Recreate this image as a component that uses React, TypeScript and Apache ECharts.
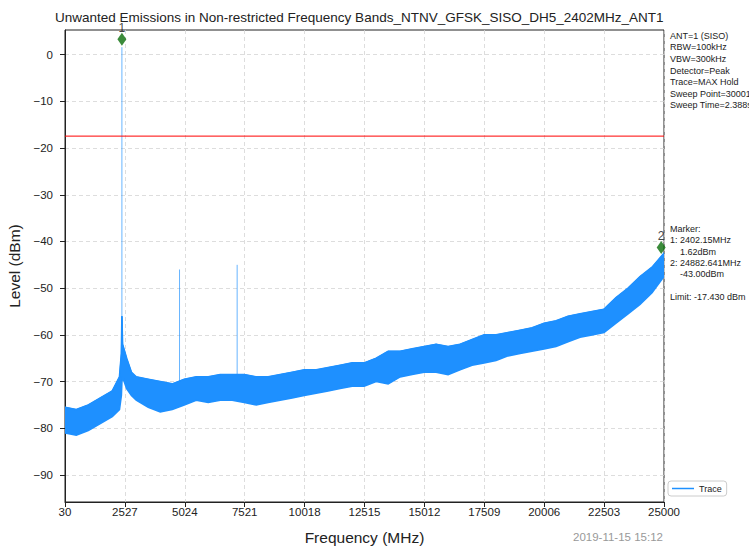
import React, { useEffect, useRef } from 'react';
import * as echarts from 'echarts';

const TITLE = 'Unwanted Emissions in Non-restricted Frequency Bands_NTNV_GFSK_SISO_DH5_2402MHz_ANT1';

const X_TICKS = [30, 2527, 5024, 7521, 10018, 12515, 15012, 17509, 20006, 22503, 25000];
const Y_TICKS = [-90, -80, -70, -60, -50, -40, -30, -20, -10, 0];

// trace envelope
const FREQ = [30, 500, 1000, 1500, 2000, 2300, 2380, 2402, 2430, 2600, 2800, 3000, 3500, 4000, 4500, 5000, 5500, 6000, 6500, 7000, 7500, 8000, 8500, 9000, 9500, 10000, 10500, 11000, 11500, 12000, 12500, 13000, 13500, 14000, 14500, 15000, 15500, 16000, 16500, 17000, 17500, 18000, 18500, 19000, 19500, 20000, 20500, 21000, 21500, 22000, 22500, 23000, 23500, 24000, 24500, 25000];
const UPPER = [-75.5, -76, -75, -73.5, -72, -69, -64, -56, -62, -65, -68, -69, -69.5, -70, -70.5, -69.5, -69, -69, -68.5, -68.5, -68.5, -69, -69, -68.5, -68, -67.5, -67.5, -67, -66.5, -66, -66, -65, -63.5, -63.5, -63, -62.5, -62, -62.5, -62, -61, -60, -60, -59.5, -59, -58.5, -57.5, -57, -56, -55.5, -55, -54.5, -52, -50, -47.5, -45.5, -42.5];
const LOWER = [-81, -81.5, -80.5, -79, -77.5, -76, -73, -70, -69, -71.5, -73, -74, -75.5, -76.5, -76, -75, -74, -74.5, -74, -74, -74.5, -75, -74.5, -74, -73.5, -73, -72.5, -72, -71.5, -71, -71, -70, -70.5, -69, -68.5, -68, -68, -68.5, -67.5, -66.5, -66, -65.5, -64.5, -64, -63.5, -63, -62.5, -61.5, -60.5, -60, -59.5, -57.5, -55.5, -53.5, -51, -47.5];

// narrow spurious peaks
const SPIKE_FREQ = [2402.15, 4804, 7206];
const SPIKE_TOP = [1.62, -46, -45];
const SPIKE_BASE = [-62, -70, -69];

const MARKER_FREQ = [2402.15, 24882.641];
const MARKER_LEVEL = [1.62, -43.0];
const LIMIT = -17.43;

const SETTINGS = ['ANT=1 (SISO)', 'RBW=100kHz', 'VBW=300kHz', 'Detector=Peak', 'Trace=MAX Hold', 'Sweep Point=30001', 'Sweep Time=2.388s'];
const MARKER_TEXT = ['Marker:', '1: 2402.15MHz', '    1.62dBm', '2: 24882.641MHz', '    -43.00dBm', '', 'Limit: -17.430 dBm'];
const TIMESTAMP = '2019-11-15 15:12';

const FONT = '"Liberation Sans", Arial, sans-serif';
const BLUE = '#1e90ff';

export default function App() {
  const ref = useRef<HTMLDivElement>(null);
  useEffect(() => {
    const chart = echarts.init(ref.current!, null, { renderer: 'svg' });
    const spikeSeries = SPIKE_FREQ.map((f, i) => ({
      type: 'line',
      name: 'spike' + i,
      data: [[f, SPIKE_BASE[i]], [f, SPIKE_TOP[i]]],
      symbol: 'none',
      lineStyle: { color: BLUE, width: 0.9, opacity: 0.75 },
      z: 3,
    }));
    const option: any = {
      animation: false,
      backgroundColor: '#fff',
      textStyle: { fontFamily: FONT },
      title: {
        text: TITLE,
        left: 55,
        top: 10,
        padding: 0,
        textStyle: { fontSize: 13.5, fontWeight: 'normal', color: '#222', fontFamily: FONT },
      },
      grid: { left: 65, top: 30, width: 599, height: 472, show: true, borderColor: '#222', borderWidth: 1, backgroundColor: 'transparent', outerBoundsMode: 'none' },
      legend: {
        data: ['Trace'],
        left: 668,
        top: 481,
        orient: 'vertical',
        icon: 'rect',
        itemWidth: 22,
        itemHeight: 1.5,
        padding: [3, 5, 3, 4],
        borderColor: '#ccc',
        borderWidth: 1,
        borderRadius: 3,
        textStyle: { fontSize: 9, color: '#222', fontFamily: FONT },
      },
      xAxis: {
        type: 'value',
        min: 30,
        max: 25000,
        name: 'Frequency (MHz)',
        nameLocation: 'middle',
        nameGap: 27,
        nameTextStyle: { fontSize: 15.5, color: '#222', fontFamily: FONT },
        axisLine: { show: true, onZero: false, lineStyle: { color: '#222' } },
        axisTick: { show: true, inside: false, length: 5, customValues: X_TICKS, lineStyle: { color: '#222' } },
        axisLabel: { customValues: X_TICKS, formatter: (v: number) => String(v), fontSize: 11.5, color: '#222', margin: 4, fontFamily: FONT },
        splitLine: { show: true, lineStyle: { color: '#d4d4d4', type: [4, 3], width: 0.8 } },
      },
      yAxis: {
        type: 'value',
        min: -95.8,
        max: 5.3,
        name: 'Level (dBm)',
        nameLocation: 'middle',
        nameGap: 30,
        nameTextStyle: { fontSize: 15.5, color: '#222', fontFamily: FONT },
        axisLine: { show: true, onZero: false, lineStyle: { color: '#222' } },
        axisTick: { show: true, inside: false, length: 5, customValues: Y_TICKS, lineStyle: { color: '#222' } },
        axisLabel: { customValues: Y_TICKS, formatter: (v: number) => String(v).replace('-', '\u2212'), fontSize: 11.5, color: '#222', margin: 12, fontFamily: FONT },
        splitLine: { show: true, lineStyle: { color: '#d4d4d4', type: [4, 3], width: 0.8 } },
      },
      series: [
        {
          type: 'custom',
          name: 'band',
          data: FREQ.map((f, i) => [f, UPPER[i], LOWER[i]]),
          encode: { x: 0, y: [1, 2] },
          clip: true,
          z: 2,
          renderItem: (params: any, api: any) => {
            if (params.dataIndex !== 0) return null;
            const pts: number[][] = [];
            for (let i = 0; i < FREQ.length; i++) pts.push(api.coord([FREQ[i], UPPER[i]]));
            for (let i = FREQ.length - 1; i >= 0; i--) pts.push(api.coord([FREQ[i], LOWER[i]]));
            return { type: 'polygon', shape: { points: pts }, style: { fill: BLUE, stroke: BLUE, lineWidth: 1.6 } };
          },
        },
        {
          type: 'line',
          name: 'Trace',
          data: FREQ.map((f, i) => [f, UPPER[i]]),
          symbol: 'none',
          lineStyle: { color: BLUE, width: 1 },
          itemStyle: { color: BLUE },
          z: 2,
        },
        ...spikeSeries,
        {
          type: 'line',
          name: 'limit',
          data: [[30, LIMIT], [25000, LIMIT]],
          symbol: 'none',
          lineStyle: { color: '#ff0000', width: 1 },
          z: 4,
        },
        {
          type: 'scatter',
          name: 'markers',
          data: MARKER_FREQ.map((f, i) => [f, MARKER_LEVEL[i]]),
          symbol: 'diamond',
          symbolSize: [9, 13],
          symbolOffset: [0, -8],
          clip: false,
          itemStyle: { color: '#0a6e0a' },
          label: {
            show: true,
            position: 'top',
            distance: -1.5,
            formatter: (p: any) => String(p.dataIndex + 1),
            fontSize: 12,
            color: '#111',
            fontFamily: FONT,
          },
          z: 5,
        },
      ],
      graphic: [
        {
          type: 'text',
          left: 670,
          top: 30,
          style: { text: SETTINGS.join('\n'), font: '9px ' + FONT, fill: '#222', lineHeight: 11.6 },
        },
        {
          type: 'text',
          left: 670,
          top: 223,
          style: { text: MARKER_TEXT.join('\n'), font: '9px ' + FONT, fill: '#222', lineHeight: 11.4 },
        },
        {
          type: 'text',
          left: 573,
          top: 531,
          style: { text: TIMESTAMP, font: '11.5px ' + FONT, fill: '#999' },
        },
      ],
    };
    chart.setOption(option);
    return () => chart.dispose();
  }, []);
  return <div ref={ref} style={{ position: 'fixed', left: 0, top: 0, width: 749, height: 547, background: '#fff' }} />;
}
